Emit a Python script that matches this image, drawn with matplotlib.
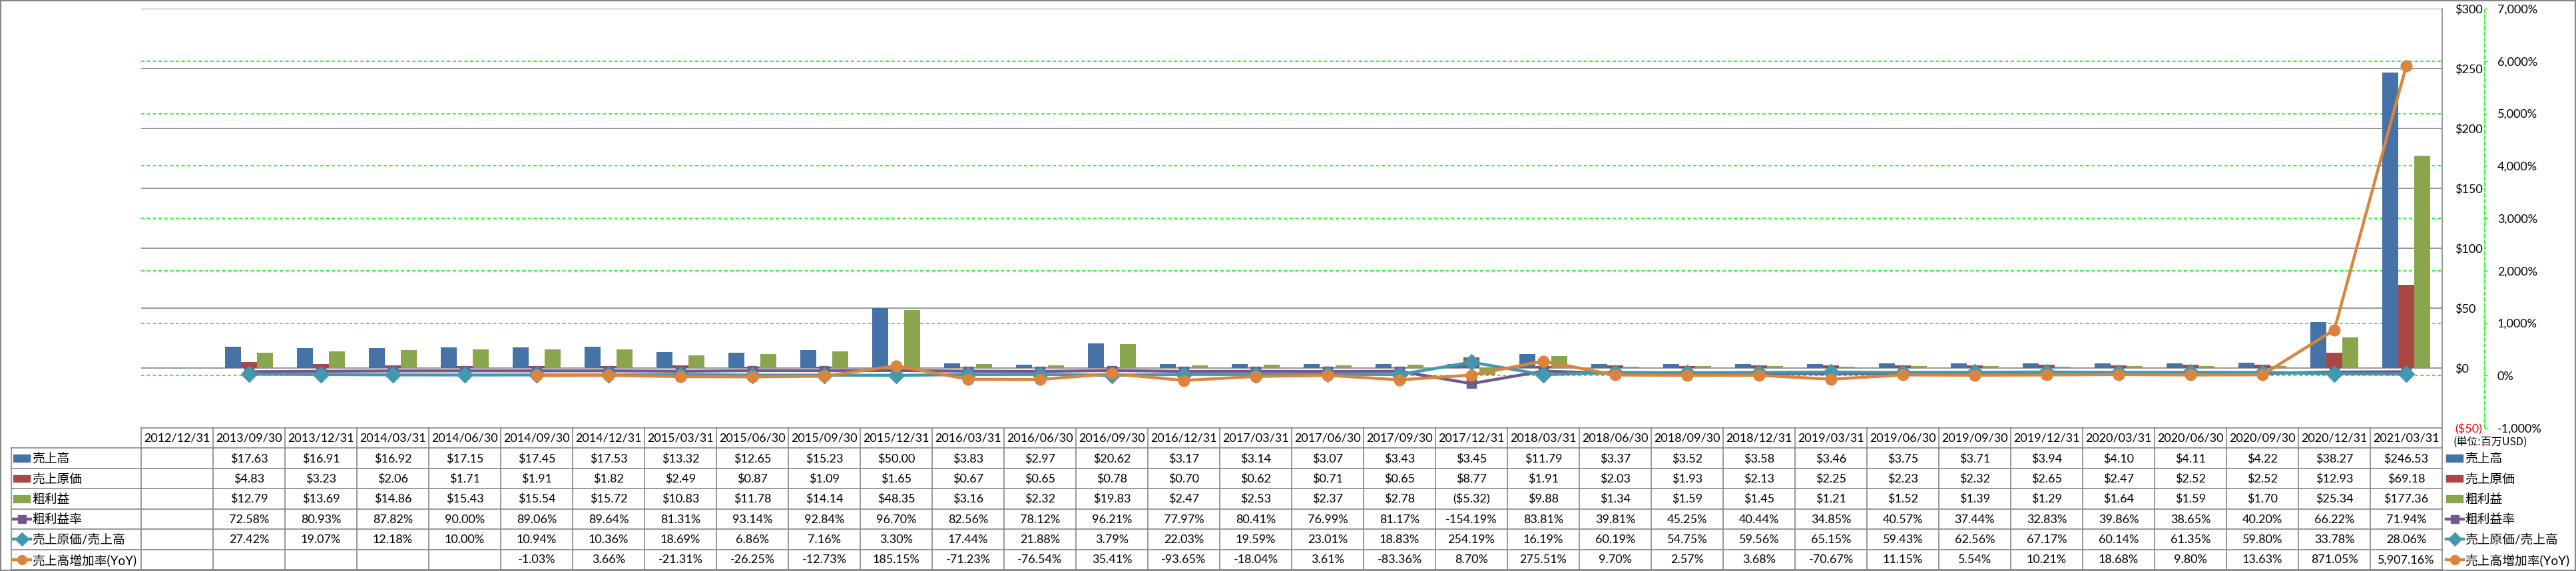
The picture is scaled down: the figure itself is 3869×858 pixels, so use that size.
import numpy as np
import matplotlib
matplotlib.use('Agg')
import matplotlib.pyplot as plt
from matplotlib.patches import Rectangle
from matplotlib.transforms import blended_transform_factory

plt.rcParams['font.family'] = ['Lato', 'Noto Sans CJK JP', 'DejaVu Sans']

######################################
# data (単位: 百万USD)

dates = ['2012/12/31', '2013/09/30', '2013/12/31', '2014/03/31', '2014/06/30', '2014/09/30',
         '2014/12/31', '2015/03/31', '2015/06/30', '2015/09/30', '2015/12/31', '2016/03/31',
         '2016/06/30', '2016/09/30', '2016/12/31', '2017/03/31', '2017/06/30', '2017/09/30',
         '2017/12/31', '2018/03/31', '2018/06/30', '2018/09/30', '2018/12/31', '2019/03/31',
         '2019/06/30', '2019/09/30', '2019/12/31', '2020/03/31', '2020/06/30', '2020/09/30',
         '2020/12/31', '2021/03/31']

sales = [None, 17.63, 16.91, 16.92, 17.15, 17.45, 17.53, 13.32, 12.65, 15.23, 50.00, 3.83,
         2.97, 20.62, 3.17, 3.14, 3.07, 3.43, 3.45, 11.79, 3.37, 3.52, 3.58, 3.46,
         3.75, 3.71, 3.94, 4.10, 4.11, 4.22, 38.27, 246.53]
cost = [None, 4.83, 3.23, 2.06, 1.71, 1.91, 1.82, 2.49, 0.87, 1.09, 1.65, 0.67,
        0.65, 0.78, 0.70, 0.62, 0.71, 0.65, 8.77, 1.91, 2.03, 1.93, 2.13, 2.25,
        2.23, 2.32, 2.65, 2.47, 2.52, 2.52, 12.93, 69.18]
gross = [None, 12.79, 13.69, 14.86, 15.43, 15.54, 15.72, 10.83, 11.78, 14.14, 48.35, 3.16,
         2.32, 19.83, 2.47, 2.53, 2.37, 2.78, -5.32, 9.88, 1.34, 1.59, 1.45, 1.21,
         1.52, 1.39, 1.29, 1.64, 1.59, 1.70, 25.34, 177.36]
margin = [None, 72.58, 80.93, 87.82, 90.00, 89.06, 89.64, 81.31, 93.14, 92.84, 96.70, 82.56,
          78.12, 96.21, 77.97, 80.41, 76.99, 81.17, -154.19, 83.81, 39.81, 45.25, 40.44, 34.85,
          40.57, 37.44, 32.83, 39.86, 38.65, 40.20, 66.22, 71.94]
cost_ratio = [None, 27.42, 19.07, 12.18, 10.00, 10.94, 10.36, 18.69, 6.86, 7.16, 3.30, 17.44,
              21.88, 3.79, 22.03, 19.59, 23.01, 18.83, 254.19, 16.19, 60.19, 54.75, 59.56, 65.15,
              59.43, 62.56, 67.17, 60.14, 61.35, 59.80, 33.78, 28.06]
yoy = [None, None, None, None, None, -1.03, 3.66, -21.31, -26.25, -12.73, 185.15, -71.23,
       -76.54, 35.41, -93.65, -18.04, 3.61, -83.36, 8.70, 275.51, 9.70, 2.57, 3.68, -70.67,
       11.15, 5.54, 10.21, 18.68, 9.80, 13.63, 871.05, 5907.16]

bar_names = ['売上高', '売上原価', '粗利益']
line_names = ['粗利益率', '売上原価/売上高', '売上高増加率(YoY)']

money_ticks = [-50, 0, 50, 100, 150, 200, 250, 300]
pct_ticks = [-1000, 0, 1000, 2000, 3000, 4000, 5000, 6000, 7000]

c_blue, c_red, c_green = '#4572A7', '#AA4643', '#89A54E'
c_purple, c_teal, c_orange = '#71588F', '#4198AF', '#DB843D'
grid_gray = '#868686'
lime = '#00FF00'

######################################

def money(v):
    if v is None:
        return ''
    s = '$' + format(abs(v), ',.2f')
    return '(' + s + ')' if v < 0 else s

def pct(v):
    if v is None:
        return ''
    return format(v, ',.2f') + '%'

def arr(a):
    return np.array([np.nan if v is None else v for v in a], dtype=float)

W, H = 3869, 858
fig = plt.figure(figsize=(W / 100, H / 100), dpi=100)
fs = 13

# plot area
ax = fig.add_axes([212 / W, 1 - 643 / H, 3456 / W, 630 / H])
ax.set_xlim(-0.5, len(dates) - 0.5)
ax.set_ylim(-50, 300)
ax.patch.set_visible(False)
ax2 = ax.twinx()
ax2.set_ylim(-1000, 7000)

x = np.arange(len(dates))
bw = 24 / 108

for v in money_ticks[1:]:
    ax.axhline(v, color=grid_gray, lw=1.2, zorder=0.5)
tr = blended_transform_factory(ax.transAxes, ax2.transData)
for p in pct_ticks[1:-1]:
    ax.plot([0, 1], [p, p], transform=tr, color=lime, lw=1.2, dashes=(3, 2.2), zorder=0.4)

ax.bar(x - bw, arr(sales), bw, color=c_blue, zorder=2)
ax.bar(x, arr(cost), bw, color=c_red, zorder=2)
ax.bar(x + bw, arr(gross), bw, color=c_green, zorder=2)

ax2.plot(x, arr(margin), color=c_purple, lw=3.2, marker='s', ms=10, mec=c_purple, zorder=3)
ax2.plot(x, arr(cost_ratio), color=c_teal, lw=3.2, marker='D', ms=12, mec=c_teal, zorder=4)
ax2.plot(x, arr(yoy), color=c_orange, lw=3.2, marker='o', ms=12, mec=c_orange, zorder=5)

# primary axis (labels on the right)
ax.yaxis.tick_right()
ax.set_yticks(money_ticks)
ax.set_yticklabels(['(' + '$' + str(abs(v)) + ')' if v < 0 else '$' + str(v) for v in money_ticks])
ax.tick_params(axis='y', length=0, pad=13.5, labelsize=fs)
ax.get_yticklabels()[0].set_color('red')
ax.set_xticks([])
for s in ['top', 'left', 'bottom']:
    ax.spines[s].set_visible(False)
ax.spines['right'].set_color(grid_gray)
ax.spines['right'].set_linewidth(1.2)

# secondary axis
ax2.set_yticks(pct_ticks)
ax2.set_yticklabels([format(v, ',') + '%' for v in pct_ticks])
ax2.tick_params(axis='y', length=3, width=1, color=lime, direction='out', pad=10.5, labelsize=fs)
ax2.get_yticklabels()[0].set_color('red')
ax2.set_xticks([])
for s in ['top', 'left', 'bottom']:
    ax2.spines[s].set_visible(False)
ax2.spines['right'].set_position(('outward', 64 * 0.72))
ax2.spines['right'].set_color(lime)
ax2.spines['right'].set_linestyle((0, (3, 2.2)))
ax2.spines['right'].set_linewidth(1.2)

######################################
# data table

axt = fig.add_axes([212 / W, 1 - 856 / H, 3456 / W, 213 / H])
axt.set_xlim(-0.5, len(dates) - 0.5)
axt.set_ylim(7, 0)
axt.axis('off')

xl = -0.5 - 195 / 108
xr = len(dates) - 0.5
lk = dict(color='#888888', lw=1.2, clip_on=False)

axt.plot([-0.5, xr], [0, 0], **lk)
for r in range(1, 8):
    axt.plot([xl, xr], [r, r], **lk)
for c in range(len(dates) + 1):
    axt.plot([c - 0.5, c - 0.5], [0, 7], **lk)
axt.plot([xl, xl], [1, 7], **lk)

rows = [[money(v) for v in sales], [money(v) for v in cost], [money(v) for v in gross],
        [pct(v) for v in margin], [pct(v) for v in cost_ratio], [pct(v) for v in yoy]]

for i, d in enumerate(dates):
    axt.text(i, 0.52, d, ha='center', va='center', fontsize=fs)
    for r, vals in enumerate(rows):
        axt.text(i, r + 1.52, vals[i], ha='center', va='center', fontsize=fs)

# legend keys, left label column and right side
key_colors = [c_blue, c_red, c_green, c_purple, c_teal, c_orange]
key_markers = [None, None, None, 's', 'D', 'o']
key_names = bar_names + line_names
for x0 in [xl + 3 / 108, xr + 6 / 108]:
    for r in range(6):
        yc = r + 1.5
        if key_markers[r] is None:
            axt.add_patch(Rectangle((x0, yc - 0.17), 25 / 108, 0.34, color=key_colors[r], clip_on=False))
        else:
            axt.plot([x0, x0 + 26 / 108], [yc, yc], color=key_colors[r], lw=3.2, clip_on=False)
            axt.plot([x0 + 13 / 108], [yc], color=key_colors[r], marker=key_markers[r],
                     ms=9 if key_markers[r] == 's' else 10, clip_on=False)
        axt.text(x0 + 28 / 108, yc + 0.02, key_names[r], ha='left', va='center',
                 fontsize=13.5, clip_on=False)

axt.text(xr + 17 / 108, 0.72, '(単位:百万USD)', ha='left', va='center', fontsize=11.5,
         family='Noto Sans CJK JP')

# outer border
fig.patches.append(Rectangle((1 / W, 1 / H), 1 - 2 / W, 1 - 2 / H, transform=fig.transFigure,
                             fill=False, edgecolor='#888888', lw=1.5))

fig.savefig('out.png', dpi=100)
